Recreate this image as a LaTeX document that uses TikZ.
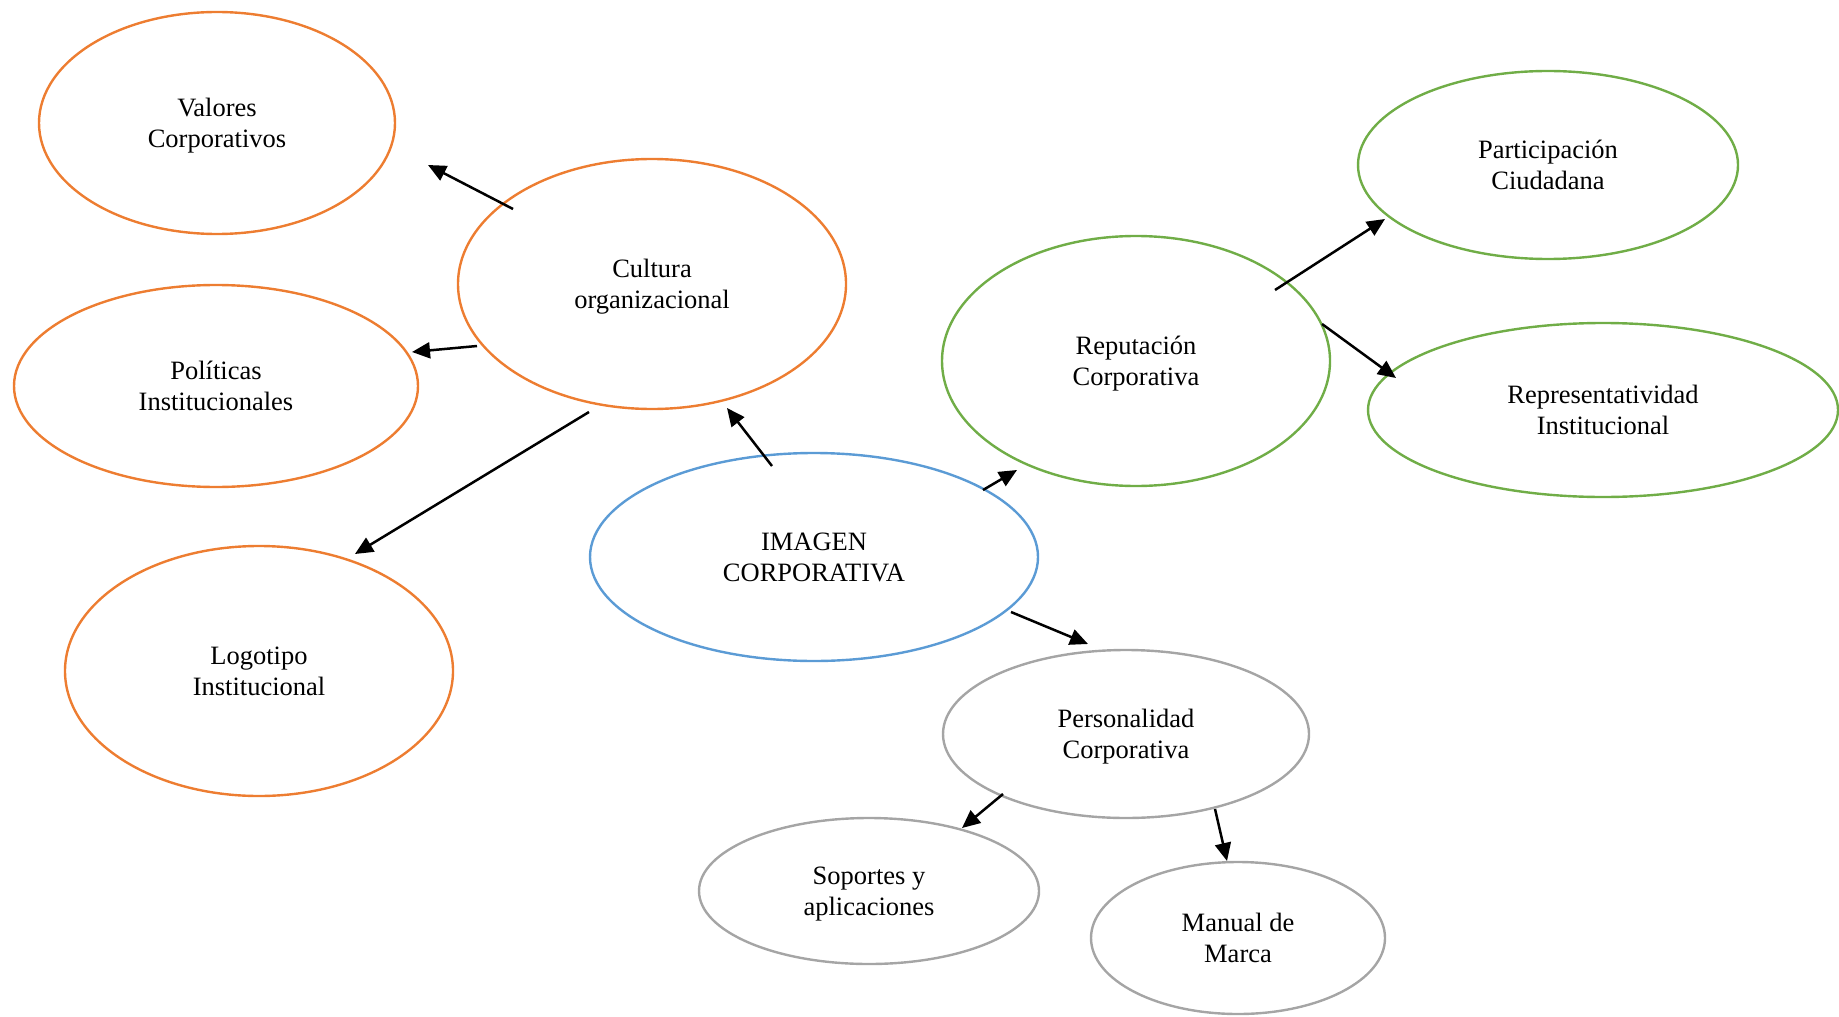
\documentclass[tikz,border=0pt]{standalone}
\usepackage{fontspec}
\setmainfont{Liberation Serif}
\usetikzlibrary{shapes.geometric,arrows.meta}
\definecolor{cOrange}{HTML}{ED7D31}
\definecolor{cGreen}{HTML}{70AD47}
\definecolor{cBlue}{HTML}{5B9BD5}
\definecolor{cGray}{HTML}{A5A5A5}
% two-line label; the taller first row sets the text a little below the centre
\newcommand\bublabel[2]{\begin{tabular}{@{}c@{}}\rule{0pt}{13.45pt}#1\\#2\end{tabular}}
\tikzset{
  bubble/.style={ellipse, draw, line width=1.2pt, inner sep=0pt,
    font=\fontsize{13.25}{15.5}\selectfont},
  orangebub/.style={bubble, draw=cOrange},
  greenbub/.style={bubble, draw=cGreen},
  bluebub/.style={bubble, draw=cBlue},
  graybub/.style={bubble, draw=cGray},
  arr/.style={line width=1.25pt, -{Triangle[length=9pt,width=8pt]}},
}
\begin{document}
\begin{tikzpicture}[x=0.5pt, y=-0.5pt]
\useasboundingbox (0,0) rectangle (1839,1016);
% bubbles (minimum size in pt = radius in px)
\node[orangebub, minimum width=178pt, minimum height=111pt] (valores) at (217,123) {\bublabel{Valores}{Corporativos}};
\node[orangebub, minimum width=194pt, minimum height=125pt] (cultura) at (652,284) {\bublabel{Cultura}{organizacional}};
\node[orangebub, minimum width=202pt, minimum height=101pt] (politicas) at (216,386) {\bublabel{Políticas}{Institucionales}};
\node[orangebub, minimum width=194pt, minimum height=125pt] (logotipo) at (259,671) {\bublabel{Logotipo}{Institucional}};
\node[bluebub, minimum width=224pt, minimum height=104pt] (imagen) at (814,557) {\bublabel{IMAGEN}{CORPORATIVA}};
\node[greenbub, minimum width=194pt, minimum height=125pt] (reputacion) at (1136,361) {\bublabel{Reputación}{Corporativa}};
\node[greenbub, minimum width=190pt, minimum height=94pt] (participacion) at (1548,165) {\bublabel{Participación}{Ciudadana}};
\node[greenbub, minimum width=235pt, minimum height=87pt] (representatividad) at (1603,410) {\bublabel{Representatividad}{Institucional}};
\node[graybub, minimum width=183pt, minimum height=84pt] (personalidad) at (1126,734) {\bublabel{Personalidad}{Corporativa}};
\node[graybub, minimum width=170pt, minimum height=73pt] (soportes) at (869,891) {\bublabel{Soportes y}{aplicaciones}};
\node[graybub, minimum width=147pt, minimum height=76pt] (manual) at (1238,938) {\bublabel{Manual de}{Marca}};
% connector end points
\coordinate (c1a) at (513,209); \coordinate (c1b) at (428,165);
\coordinate (c2a) at (477,346); \coordinate (c2b) at (412,352);
\coordinate (c3a) at (589,412); \coordinate (c3b) at (355,554);
\coordinate (c4a) at (772,466); \coordinate (c4b) at (727,408);
\coordinate (c5a) at (983,490); \coordinate (c5b) at (1017,470);
\coordinate (c6a) at (1011,612); \coordinate (c6b) at (1088,644);
\coordinate (c7a) at (1275,290); \coordinate (c7b) at (1385,219);
\coordinate (c8a) at (1322,324); \coordinate (c8b) at (1396,378);
\coordinate (c9a) at (1003,794); \coordinate (c9b) at (962,828);
\coordinate (c10a) at (1215,809); \coordinate (c10b) at (1227,861);
% connectors
\draw[arr] (c1a) -- (c1b);
\draw[arr] (c2a) -- (c2b);
\draw[arr] (c3a) -- (c3b);
\draw[arr] (c4a) -- (c4b);
\draw[arr] (c5a) -- (c5b);
\draw[arr] (c6a) -- (c6b);
\draw[arr] (c7a) -- (c7b);
\draw[arr] (c8a) -- (c8b);
\draw[arr] (c9a) -- (c9b);
\draw[arr] (c10a) -- (c10b);
\end{tikzpicture}
\end{document}
